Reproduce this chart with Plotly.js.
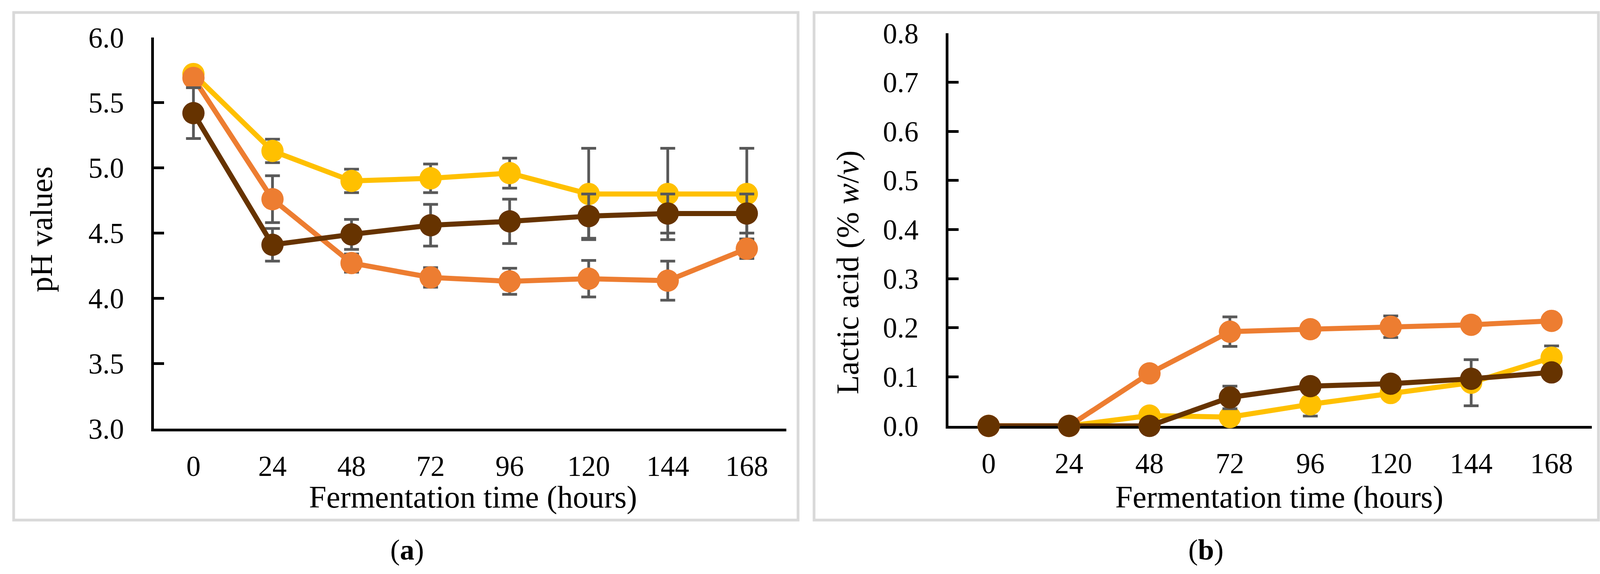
<!DOCTYPE html>
<html>
<head>
<meta charset="utf-8">
<script src="https://cdn.plot.ly/plotly-3.0.1.min.js"></script>
<style>html,body{margin:0;padding:0;background:#fff;}#chart{width:4121px;height:1469px;}</style>
</head>
<body>
<div id="chart"></div>
<script>
// ---- data ----
const hours = ['0', '24', '48', '72', '96', '120', '144', '168'];
const seriesColors = ['#FFC000', '#ED7D31', '#663300'];

// (a) pH values
const phYellow = [5.72, 5.13, 4.90, 4.92, 4.96, 4.80, 4.80, 4.80];
const phYellowErr = [0.02, 0.09, 0.09, 0.11, 0.115, 0.35, 0.35, 0.35];
const phOrange = [5.69, 4.76, 4.27, 4.16, 4.13, 4.15, 4.135, 4.38];
const phOrangeErr = [0.02, 0.18, 0.07, 0.075, 0.10, 0.14, 0.15, 0.075];
const phBrown = [5.42, 4.41, 4.49, 4.56, 4.59, 4.63, 4.65, 4.65];
const phBrownErr = [0.195, 0.125, 0.115, 0.16, 0.17, 0.17, 0.15, 0.15];

// (b) Lactic acid (% w/v)
const laYellow = [0, 0, 0.021, 0.018, 0.044, 0.067, 0.088, 0.139];
const laYellowErr = [0, 0, 0, 0, 0.024, 0.008, 0.047, 0.024];
const laOrange = [0, 0, 0.107, 0.192, 0.197, 0.202, 0.206, 0.214];
const laOrangeErr = [0, 0, 0, 0.03, 0.004, 0.022, 0.008, 0.004];
const laBrown = [0, 0, 0, 0.058, 0.081, 0.086, 0.096, 0.109];
const laBrownErr = [0, 0, 0, 0.023, 0, 0, 0, 0];

const phTicks = [3.0, 3.5, 4.0, 4.5, 5.0, 5.5, 6.0];
const laTicks = [0.0, 0.1, 0.2, 0.3, 0.4, 0.5, 0.6, 0.7, 0.8];

// ---- layout helpers ----
const W = 4121, H = 1469;
const px = v => v / W;
const py = v => 1 - v / H;
const FONT = 'Liberation Serif, Times New Roman, serif';

function mk(y, err, color, xa, ya) {
  return {
    type: 'scatter', mode: 'lines+markers', x: hours, y: y,
    xaxis: xa, yaxis: ya, cliponaxis: false, showlegend: false,
    line: {color: color, width: 13},
    marker: {color: color, size: 57},
    error_y: {type: 'data', array: err, visible: true, color: '#595959', thickness: 7, width: 19}
  };
}

const data = [
  mk(phYellow, phYellowErr, seriesColors[0], 'x', 'y'),
  mk(phOrange, phOrangeErr, seriesColors[1], 'x', 'y'),
  mk(phBrown, phBrownErr, seriesColors[2], 'x', 'y'),
  mk(laYellow, laYellowErr, seriesColors[0], 'x2', 'y2'),
  mk(laOrange, laOrangeErr, seriesColors[1], 'x2', 'y2'),
  mk(laBrown, laBrownErr, seriesColors[2], 'x2', 'y2')
];

const tickFont = {family: FONT, size: 73, color: '#000'};
function xax(d) {
  return {
    domain: d, type: 'category', range: [-0.5, 7.5], showline: true, linewidth: 7,
    linecolor: '#000', ticks: '', showgrid: false, zeroline: false,
    tickfont: tickFont, ticklabelstandoff: 26, layer: 'below traces', fixedrange: true
  };
}
function yax(d, r, tv, anchor) {
  return {
    domain: d, range: r, tickvals: tv, tickformat: '.1f', showline: true, linewidth: 7,
    linecolor: '#000', ticks: 'inside', ticklen: 26, tickwidth: 7, tickcolor: '#000',
    showgrid: false, zeroline: false, tickfont: tickFont, ticklabelstandoff: 55,
    anchor: anchor, layer: 'below traces', fixedrange: true
  };
}

const titleFont = {family: FONT, size: 80, color: '#000'};
const layout = {
  width: W, height: H, margin: {l: 0, r: 0, t: 0, b: 0},
  paper_bgcolor: '#fff', plot_bgcolor: 'rgba(0,0,0,0)',
  showlegend: false,
  xaxis: Object.assign(xax([px(394), px(2013)]), {anchor: 'y'}),
  yaxis: yax([py(1097), py(96)], [3, 6], phTicks, 'x'),
  xaxis2: Object.assign(xax([px(2428), px(4075)]), {anchor: 'y2'}),
  yaxis2: yax([py(1090), py(85)], [0, 0.8], laTicks, 'x2'),
  shapes: [
    {type: 'rect', xref: 'paper', yref: 'paper', x0: px(35), x1: px(2043), y0: py(32), y1: py(1331),
     line: {color: '#D9D9D9', width: 7}, layer: 'below'},
    {type: 'rect', xref: 'paper', yref: 'paper', x0: px(2084), x1: px(4092), y0: py(32), y1: py(1331),
     line: {color: '#D9D9D9', width: 7}, layer: 'below'}
  ],
  annotations: [
    {xref: 'paper', yref: 'paper', x: px(1211), y: py(1272), text: 'Fermentation time (hours)',
     showarrow: false, font: titleFont, xanchor: 'center', yanchor: 'middle'},
    {xref: 'paper', yref: 'paper', x: px(3275), y: py(1272), text: 'Fermentation time (hours)',
     showarrow: false, font: titleFont, xanchor: 'center', yanchor: 'middle'},
    {xref: 'paper', yref: 'paper', x: px(106), y: py(587), text: 'pH values', textangle: -90,
     showarrow: false, font: titleFont, xanchor: 'center', yanchor: 'middle'},
    {xref: 'paper', yref: 'paper', x: px(2170), y: py(697), text: 'Lactic acid (% <i>w</i>/<i>v</i>)', textangle: -90,
     showarrow: false, font: titleFont, xanchor: 'center', yanchor: 'middle'},
    {xref: 'paper', yref: 'paper', x: px(1042), y: py(1407), text: '(<b>a</b>)',
     showarrow: false, font: {family: FONT, size: 74, color: '#000'}, xanchor: 'center', yanchor: 'middle'},
    {xref: 'paper', yref: 'paper', x: px(3087), y: py(1407), text: '(<b>b</b>)',
     showarrow: false, font: {family: FONT, size: 74, color: '#000'}, xanchor: 'center', yanchor: 'middle'}
  ]
};

Plotly.newPlot('chart', data, layout, {staticPlot: true, displayModeBar: false});
</script>
</body>
</html>
